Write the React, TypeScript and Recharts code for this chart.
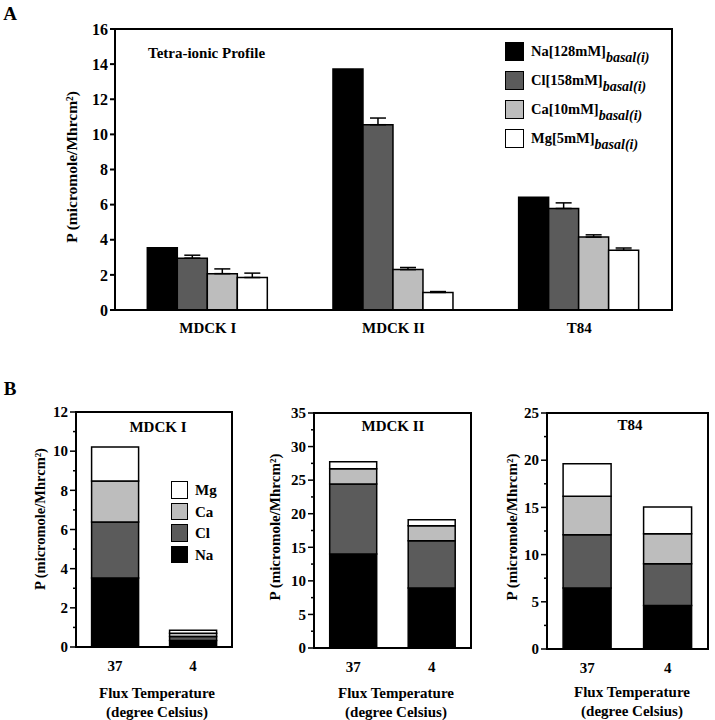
import React from 'react';
import { BarChart, Bar, XAxis, YAxis, ErrorBar, Legend, ReferenceArea } from 'recharts';

const FONT = '"Liberation Serif", "Times New Roman", serif';

// ---------- Panel A data ----------
const cellLines = ['MDCK I', 'MDCK II', 'T84'];
const naValues = [3.55, 13.72, 6.42];
const clValues = [2.95, 10.55, 5.78];
const caValues = [2.07, 2.3, 4.15];
const mgValues = [1.85, 1.0, 3.4];
const clErrors = [0.17, 0.38, 0.32];
const caErrors = [0.27, 0.12, 0.13];
const mgErrors = [0.25, 0.05, 0.13];
const yTicksA = [0, 2, 4, 6, 8, 10, 12, 14, 16];
const legendNamesA = ['Na[128mM]', 'Cl[158mM]', 'Ca[10mM]', 'Mg[5mM]'];

// ---------- Panel B data ----------
const temps = ['37', '4'];
const mdck1Na = [3.52, 0.33];
const mdck1Cl = [2.86, 0.2];
const mdck1Ca = [2.1, 0.17];
const mdck1Mg = [1.73, 0.15];
const mdck2Na = [14.0, 8.94];
const mdck2Cl = [10.43, 7.04];
const mdck2Ca = [2.27, 2.22];
const mdck2Mg = [1.05, 0.9];
const t84Na = [6.46, 4.62];
const t84Cl = [5.64, 4.42];
const t84Ca = [4.07, 3.17];
const t84Mg = [3.46, 2.83];
const yTicksB1 = [0, 1, 2, 3, 4, 5, 6, 7, 8, 9, 10, 11, 12];
const yMajorB1 = [0, 2, 4, 6, 8, 10, 12];
const yTicksB2 = [0, 2.5, 5, 7.5, 10, 12.5, 15, 17.5, 20, 22.5, 25, 27.5, 30, 32.5, 35];
const yMajorB2 = [0, 5, 10, 15, 20, 25, 30, 35];
const yTicksB3 = [0, 2.5, 5, 7.5, 10, 12.5, 15, 17.5, 20, 22.5, 25];
const yMajorB3 = [0, 5, 10, 15, 20, 25];
const legendOrderB = ['Mg', 'Ca', 'Cl', 'Na'];

const COLORS = { Na: '#000000', Cl: '#5b5b5b', Ca: '#bdbdbd', Mg: '#ffffff' };

const dataA = cellLines.map((c, i) => ({
  cell: c,
  Na: naValues[i],
  Cl: clValues[i],
  Ca: caValues[i],
  Mg: mgValues[i],
  clErr: [0, clErrors[i]],
  caErr: [0, caErrors[i]],
  mgErr: [0, mgErrors[i]],
}));

const axisStroke = { stroke: '#000', strokeWidth: 2 };
const tickFont = { fill: '#000', fontSize: 15, fontWeight: 700, fontFamily: FONT };

const LegendA = (props: any) => {
  const payload = [...(props.payload || [])].sort(
    (a: any, b: any) => legendNamesA.indexOf(a.value) - legendNamesA.indexOf(b.value)
  );
  return (
    <div style={{ fontFamily: FONT, fontWeight: 700, color: '#000' }}>
      {payload.map((p: any, i: number) => (
        <div key={i} style={{ display: 'flex', alignItems: 'center', height: 20, marginBottom: 9 }}>
          <div style={{ width: 17, height: 17, background: p.color, border: '1.5px solid #000', marginRight: 7 }} />
          <span style={{ fontSize: 14.5, whiteSpace: 'nowrap', lineHeight: '20px' }}>
            {p.value}
            <span style={{ fontStyle: 'italic', fontSize: 14, position: 'relative', top: 6 }}>basal(i)</span>
          </span>
        </div>
      ))}
    </div>
  );
};

const LegendB = (props: any) => {
  const payload = [...(props.payload || [])].sort(
    (a: any, b: any) => legendOrderB.indexOf(a.value) - legendOrderB.indexOf(b.value)
  );
  return (
    <div style={{ fontFamily: FONT, fontWeight: 700, color: '#000' }}>
      {payload.map((p: any, i: number) => (
        <div key={i} style={{ display: 'flex', alignItems: 'center', height: 18, marginBottom: 3.5 }}>
          <div style={{ width: 15, height: 15.5, background: p.color, border: '1.5px solid #000', marginRight: 7 }} />
          <span style={{ fontSize: 15, lineHeight: '18px' }}>{p.value}</span>
        </div>
      ))}
    </div>
  );
};

function PanelA() {
  return (
    <div style={{ position: 'absolute', left: 0, top: 0 }}>
      <BarChart
        width={715}
        height={360}
        data={dataA}
        margin={{ top: 29, right: 43, left: 55, bottom: 20 }}
        barCategoryGap="17.4%"
        barGap={0}
      >
        <XAxis
          dataKey="cell"
          axisLine={axisStroke}
          tickLine={false}
          tickSize={0}
          tickMargin={12}
          height={30}
          tick={tickFont}
        />
        <YAxis
          domain={[0, 16]}
          ticks={yTicksA}
          width={60}
          axisLine={axisStroke}
          tickLine={{ stroke: '#000', strokeWidth: 2 }}
          tickSize={5}
          tickMargin={2}
          tick={{ ...tickFont, fontSize: 16 }}
          interval={0}
        />
        <Legend
          layout="vertical"
          align="center"
          verticalAlign="middle"
          content={<LegendA />}
          wrapperStyle={{ left: 505, top: 41, width: 175, height: 120 }}
        />
        <Bar dataKey="Na" name={legendNamesA[0]} fill={COLORS.Na} stroke="#000" strokeWidth={1.5} isAnimationActive={false} />
        <Bar dataKey="Cl" name={legendNamesA[1]} fill={COLORS.Cl} stroke="#000" strokeWidth={1.5} isAnimationActive={false}>
          <ErrorBar dataKey="clErr" width={8} stroke="#000" strokeWidth={1.5} direction="y" />
        </Bar>
        <Bar dataKey="Ca" name={legendNamesA[2]} fill={COLORS.Ca} stroke="#000" strokeWidth={1.5} isAnimationActive={false}>
          <ErrorBar dataKey="caErr" width={8} stroke="#000" strokeWidth={1.5} direction="y" />
        </Bar>
        <Bar dataKey="Mg" name={legendNamesA[3]} fill={COLORS.Mg} stroke="#000" strokeWidth={1.5} isAnimationActive={false}>
          <ErrorBar dataKey="mgErr" width={8} stroke="#000" strokeWidth={1.5} direction="y" />
        </Bar>
        <ReferenceArea y1={0} y2={16} fill="none" fillOpacity={0} stroke="#000" strokeWidth={2} ifOverflow="visible" />
      </BarChart>
    </div>
  );
}

const StackTick = (props: any) => {
  const { x, y, payload, majors } = props;
  const isMajor = majors.includes(payload.value);
  const ax = x + 8;
  return (
    <g>
      <line x1={ax} x2={ax - (isMajor ? 6 : 3)} y1={y} y2={y} stroke="#000" strokeWidth={1.5} />
      {isMajor && (
        <text x={x} y={y} dy="0.35em" textAnchor="end" fill="#000" fontSize={15} fontWeight={700} fontFamily={FONT}>
          {payload.value}
        </text>
      )}
    </g>
  );
};

type StackProps = {
  left: number;
  width: number;
  margin: { top: number; right: number; left: number; bottom: number };
  yMax: number;
  ticks: number[];
  majors: number[];
  na: number[];
  cl: number[];
  ca: number[];
  mg: number[];
  legend?: boolean;
};

function StackPanel(p: StackProps) {
  const data = temps.map((t, i) => ({ temp: t, Na: p.na[i], Cl: p.cl[i], Ca: p.ca[i], Mg: p.mg[i] }));
  return (
    <div style={{ position: 'absolute', left: p.left, top: 380 }}>
      <BarChart width={p.width} height={340} data={data} margin={p.margin} barCategoryGap="20%">
        <XAxis
          dataKey="temp"
          axisLine={axisStroke}
          tickLine={false}
          tickSize={0}
          tickMargin={13}
          height={30}
          tick={tickFont}
        />
        <YAxis
          domain={[0, p.yMax]}
          ticks={p.ticks}
          interval={0}
          width={40}
          axisLine={axisStroke}
          tickLine={false}
          tickSize={6}
          tickMargin={2}
          tick={(tp: any) => <StackTick {...tp} majors={p.majors} />}
        />
        {p.legend && (
          <Legend
            layout="vertical"
            align="center"
            verticalAlign="middle"
            content={<LegendB />}
            wrapperStyle={{ left: 171, top: 101, width: 60, height: 90 }}
          />
        )}
        <Bar dataKey="Na" name="Na" stackId="s" fill={COLORS.Na} stroke="#000" strokeWidth={1.5} isAnimationActive={false} />
        <Bar dataKey="Cl" name="Cl" stackId="s" fill={COLORS.Cl} stroke="#000" strokeWidth={1.5} isAnimationActive={false} />
        <Bar dataKey="Ca" name="Ca" stackId="s" fill={COLORS.Ca} stroke="#000" strokeWidth={1.5} isAnimationActive={false} />
        <Bar dataKey="Mg" name="Mg" stackId="s" fill={COLORS.Mg} stroke="#000" strokeWidth={1.5} isAnimationActive={false} />
        <ReferenceArea y1={0} y2={p.yMax} fill="none" fillOpacity={0} stroke="#000" strokeWidth={2} ifOverflow="visible" />
      </BarChart>
    </div>
  );
}

const Txt = ({ x, y, size = 15, rotate = false, children, anchor = 'center' }: any) => (
  <div
    style={{
      position: 'absolute',
      left: x,
      top: y,
      fontFamily: FONT,
      fontWeight: 700,
      fontSize: size,
      lineHeight: 1,
      whiteSpace: 'nowrap',
      color: '#000',
      transform:
        (anchor === 'center' ? 'translate(-50%,-50%)' : 'translate(0,-50%)') + (rotate ? ' rotate(-90deg)' : ''),
    }}
  >
    {children}
  </div>
);

const Y_LABEL = 'P (micromole/Mhrcm²)';

export default function App() {
  return (
    <div style={{ position: 'absolute', left: 0, top: 0, width: 715, height: 720, background: '#fff', overflow: 'hidden' }}>
      <PanelA />
      <StackPanel
        left={0}
        width={240}
        margin={{ top: 32, right: 8, left: 36, bottom: 43 }}
        yMax={12}
        ticks={yTicksB1}
        majors={yMajorB1}
        na={mdck1Na}
        cl={mdck1Cl}
        ca={mdck1Ca}
        mg={mdck1Mg}
        legend
      />
      <StackPanel
        left={240}
        width={240}
        margin={{ top: 33, right: 9, left: 34, bottom: 42 }}
        yMax={35}
        ticks={yTicksB2}
        majors={yMajorB2}
        na={mdck2Na}
        cl={mdck2Cl}
        ca={mdck2Ca}
        mg={mdck2Mg}
      />
      <StackPanel
        left={470}
        width={245}
        margin={{ top: 33, right: 7, left: 37, bottom: 41 }}
        yMax={25}
        ticks={yTicksB3}
        majors={yMajorB3}
        na={t84Na}
        cl={t84Cl}
        ca={t84Ca}
        mg={t84Mg}
      />

      <Txt x={10} y={13} size={19}>A</Txt>
      <Txt x={10} y={388} size={19}>B</Txt>
      <Txt x={148} y={53} size={15} anchor="left">Tetra-ionic Profile</Txt>
      <Txt x={72} y={167} size={15.5} rotate>{Y_LABEL}</Txt>

      <Txt x={158} y={427} size={15}>MDCK I</Txt>
      <Txt x={393} y={426} size={15}>MDCK II</Txt>
      <Txt x={630} y={425} size={15}>T84</Txt>

      <Txt x={40} y={519} size={14.5} rotate>{Y_LABEL}</Txt>
      <Txt x={275} y={527} size={15} rotate>{Y_LABEL}</Txt>
      <Txt x={512} y={527} size={15} rotate>{Y_LABEL}</Txt>

      <Txt x={157} y={693} size={15}>Flux Temperature</Txt>
      <Txt x={157} y={712} size={15}>(degree Celsius)</Txt>
      <Txt x={396} y={693} size={15}>Flux Temperature</Txt>
      <Txt x={396} y={712} size={15}>(degree Celsius)</Txt>
      <Txt x={632} y={692} size={15}>Flux Temperature</Txt>
      <Txt x={632} y={711} size={15}>(degree Celsius)</Txt>
    </div>
  );
}
